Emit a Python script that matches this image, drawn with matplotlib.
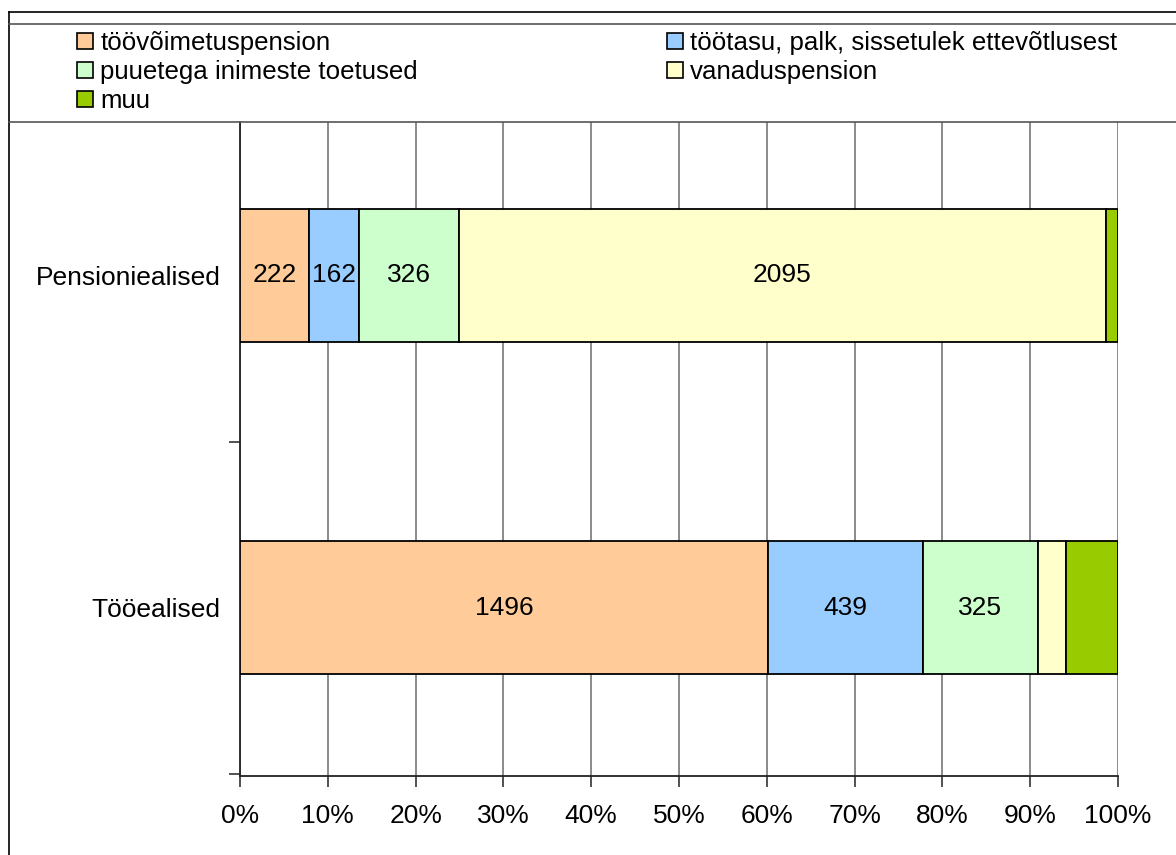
import matplotlib
matplotlib.use("Agg")
import matplotlib.pyplot as plt
from matplotlib.lines import Line2D
from matplotlib.patches import Patch
import numpy as np

plt.rcParams.update({
    "font.family": ["Liberation Sans", "DejaVu Sans"],
    "font.size": 19,
})

# ---------------------------------------------------------------- data
CATEGORIES = ["Tööealised", "Pensioniealised"]
SERIES = ["töövõimetuspension", "töötasu, palk, sissetulek ettevõtlusest",
          "puuetega inimeste toetused", "vanaduspension", "muu"]
COLORS = ["#FFCC99", "#99CCFF", "#CCFFCC", "#FFFFCC", "#99CC00"]
# values per series, ordered as CATEGORIES
TOOVOIME = [1496, 222]
TOOTASU = [439, 162]
PUUETEGA = [325, 326]
VANADUS = [80, 2095]
MUU = [148, 40]
VALUES = [TOOVOIME, TOOTASU, PUUETEGA, VANADUS, MUU]

# ---------------------------------------------------------------- plot
W, H = 1176, 855
fig = plt.figure(figsize=(W / 100, H / 100), dpi=100)
ax = fig.add_axes([240 / W, (H - 776) / H, (1118 - 240) / W, (776 - 122) / H])

vals = np.array(VALUES, dtype=float)
totals = vals.sum(axis=0)
shares = vals / totals * 100
y = np.arange(len(CATEGORIES))
left = np.zeros(len(CATEGORIES))
for name, col, raw, sh in zip(SERIES, COLORS, vals, shares):
    ax.barh(y, sh, left=left, height=0.4, color=col, edgecolor="black",
            linewidth=1.3, zorder=3)
    for yi, l, s, r in zip(y, left, sh, raw):
        if s > 6.5 or (r > 150 and s > 5):
            ax.text(l + s / 2, yi, f"{int(r)}", ha="center", va="center",
                    fontsize=19, zorder=4)
    left += sh

ax.set_xlim(0, 100)
ax.set_ylim(-0.505, 1.46)
ax.set_xticks(np.arange(0, 101, 10))
ax.set_xticklabels([f"{v}%" for v in range(0, 101, 10)])
ax.xaxis.grid(True, color="#777777", linewidth=1.2, zorder=0)
ax.set_axisbelow(True)

ax.set_yticks(y)
ax.set_yticklabels(CATEGORIES)
ax.set_yticks([-0.5, 0.5], minor=True)
ax.tick_params(axis="y", which="major", length=0, pad=14)
ax.tick_params(axis="y", which="minor", length=8, width=1.2, color="#333333")
ax.tick_params(axis="x", length=8, width=1.2, color="#333333", pad=12)

for s in ("top", "right"):
    ax.spines[s].set_visible(False)
for s in ("left", "bottom"):
    ax.spines[s].set_color("#222222")
    ax.spines[s].set_linewidth(1.3)

# frame lines round the chart and the legend box
fig.add_artist(Line2D([9 / W, 9 / W], [0, 1 - 12 / H], color="black", lw=1.2))
fig.add_artist(Line2D([9 / W, 1], [1 - 12 / H, 1 - 12 / H], color="black", lw=1.2))
fig.add_artist(Line2D([9 / W, 1], [1 - 24 / H, 1 - 24 / H], color="#555555", lw=1.2))
fig.add_artist(Line2D([9 / W, 1], [1 - 122 / H, 1 - 122 / H], color="#555555", lw=1.2))

handles = [Patch(facecolor=c, edgecolor="black", linewidth=1.2, label=n)
           for n, c in zip(SERIES, COLORS)]
leg_kw = dict(loc="upper left", frameon=False, fontsize=18.6, handlelength=0.6,
              handleheight=0.6, handletextpad=0.3, labelspacing=0.2,
              borderpad=0, borderaxespad=0)
leg1 = fig.legend([handles[i] for i in (0, 2, 4)], [SERIES[i] for i in (0, 2, 4)],
                  bbox_to_anchor=(77 / W, 1 - 31 / H), **leg_kw)
leg2 = fig.legend([handles[i] for i in (1, 3)], [SERIES[i] for i in (1, 3)],
                  bbox_to_anchor=(667 / W, 1 - 31 / H), **leg_kw)

fig.savefig("out.png", dpi=100)
